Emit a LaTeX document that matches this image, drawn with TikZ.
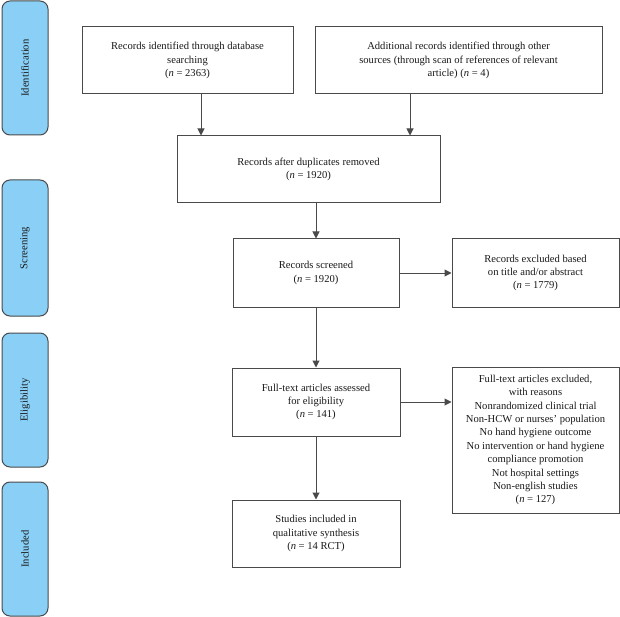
\documentclass[tikz,border=0pt]{standalone}
\usepackage{fontspec}
\setmainfont{Liberation Serif}
\usetikzlibrary{arrows.meta}
\definecolor{barblue}{HTML}{8ACFF6}
\definecolor{edge}{HTML}{4A4A4A}
\begin{document}
\begin{tikzpicture}[x=1pt,y=-1pt,
  box/.style={draw=edge,line width=1pt,align=center,inner sep=2pt,font=\fontsize{10.6}{13.4}\selectfont,text=black!90},
  bar/.style={draw=edge,line width=1pt,fill=barblue,rounded corners=8pt,minimum width=46pt},
  bartext/.style={rotate=90,font=\fontsize{10.6}{12}\selectfont,text=black!90},
  arr/.style={draw=edge,line width=1pt,-{Triangle[length=7pt,width=7pt]}}]
\useasboundingbox (0,0) rectangle (620,617);
% side bars
\node[bar,minimum height=134pt] (b1) at (25,68) {};
\node[bartext] (t1) at (b1.center) {Identification};
\node[bar,minimum height=136pt] (b2) at (25,248) {};
\node[bartext] (t2) at (b2.center) {Screening};
\node[bar,minimum height=134pt] (b3) at (25,400) {};
\node[bartext] (t3) at (b3.center) {Eligibility};
\node[bar,minimum height=134pt] (b4) at (25,549) {};
\node[bartext] (t4) at (b4.center) {Included};
% boxes
\node[box,minimum width=211pt,minimum height=67pt] (n1) at (187.5,60.5) {Records identified through database\\searching\\(\textit{n} = 2363)};
\node[box,minimum width=287pt,minimum height=67pt] (n2) at (458.5,60.5) {Additional records identified through other\\sources (through scan of references of relevant\\article) (\textit{n} = 4)};
\node[box,minimum width=263pt,minimum height=67pt] (n3) at (308.5,169.5) {Records after duplicates removed\\(\textit{n} = 1920)};
\node[box,minimum width=166pt,minimum height=68pt] (n4) at (316,273) {Records screened\\(\textit{n} = 1920)};
\node[box,minimum width=167pt,minimum height=68pt] (n5) at (535.5,273) {Records excluded based\\on title and/or abstract\\(\textit{n} = 1779)};
\node[box,minimum width=168pt,minimum height=68pt] (n6) at (316,402) {Full-text articles assessed\\for eligibility\\(\textit{n} = 141)};
\node[box,minimum width=167pt,minimum height=146pt] (n7) at (535.5,440) {Full-text articles excluded,\\with reasons\\Nonrandomized clinical trial\\Non-HCW or nurses' population\\No hand hygiene outcome\\No intervention or hand hygiene\\compliance promotion\\Not hospital settings\\Non-english studies\\(\textit{n} = 127)};
\node[box,minimum width=168pt,minimum height=67pt] (n8) at (316,533.5) {Studies included in\\qualitative synthesis\\(\textit{n} = 14 RCT)};
% arrows
\draw[arr] (n1.south -| 201,0) -- (n3.north -| 201,0);
\draw[arr] (n2.south -| 410,0) -- (n3.north -| 410,0);
\draw[arr] (n3.south -| n4) -- (n4.north);
\draw[arr] (n4.east) -- (n5.west);
\draw[arr] (n4.south) -- (n6.north);
\draw[arr] (n6.east) -- (n6.east -| n7.west);
\draw[arr] (n6.south) -- (n8.north);
\end{tikzpicture}
\end{document}
